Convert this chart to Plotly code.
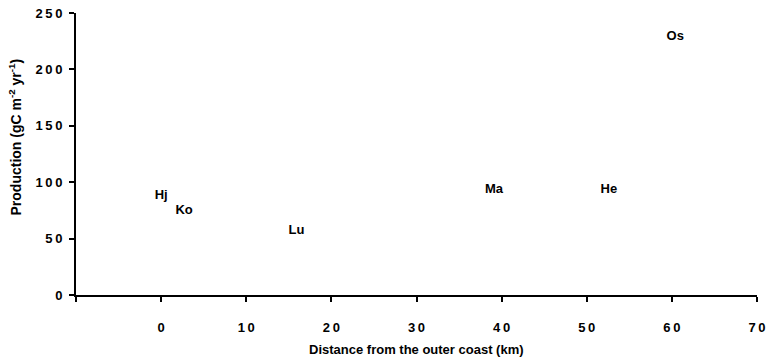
import plotly.graph_objects as go

site_labels = ["Hj", "Ko", "Lu", "Ma", "He", "Os"]
distance_km = [0, 2.7, 15.9, 39.1, 52.6, 60.4]
production = [88, 75, 57, 93, 93, 229]

x_ticks = [0, 10, 20, 30, 40, 50, 60, 70]
y_ticks = [0, 50, 100, 150, 200, 250]

FONT = "Liberation Sans, Arial, sans-serif"

def spaced(s):
    return "\u2009".join(list(s))

fig = go.Figure()
fig.add_trace(go.Scatter(
    x=distance_km, y=production, mode="text", text=site_labels,
    textposition="middle center",
    textfont=dict(family=FONT, size=13, color="black", weight="bold"),
    hoverinfo="skip", showlegend=False,
))

axis_common = dict(
    showgrid=False, zeroline=False, showline=True, linecolor="black", linewidth=2,
    ticks="outside", ticklen=5, tickwidth=2, tickcolor="black", automargin=False,
    tickfont=dict(family=FONT, size=13, color="black", weight="bold"),
)

fig.update_layout(
    width=767, height=360,
    margin=dict(l=76, r=10, t=13, b=65),
    paper_bgcolor="white", plot_bgcolor="white",
    xaxis=dict(range=[-10, 70], tickmode="array", tickvals=x_ticks,
               ticktext=[spaced(str(v)) for v in x_ticks], ticklabelstandoff=14,
               minor=dict(tick0=-10, dtick=80, ticks="outside", ticklen=5, tickwidth=2,
                          tickcolor="black", showgrid=False),
               **axis_common),
    yaxis=dict(range=[0, 250], tickmode="array", tickvals=y_ticks,
               ticktext=[spaced(str(v)) for v in y_ticks], ticklabelstandoff=4, **axis_common),
    annotations=[
        dict(text="Distance from the outer coast (km)", xref="paper", yref="paper",
             x=0.5, y=-0.195, showarrow=False, xanchor="center", yanchor="middle",
             font=dict(family=FONT, size=13, color="black", weight="bold")),
        dict(text="Production (gC m<sup>-2</sup> yr<sup>-1</sup>)", xref="paper", yref="paper",
             x=-0.089, y=0.56, showarrow=False, textangle=-90, xanchor="center", yanchor="middle",
             font=dict(family=FONT, size=14, color="black", weight="bold")),
    ],
)

fig.write_html("out.html", config={"displayModeBar": False},
               post_script="document.body.style.margin='0';document.body.style.overflow='hidden';")
